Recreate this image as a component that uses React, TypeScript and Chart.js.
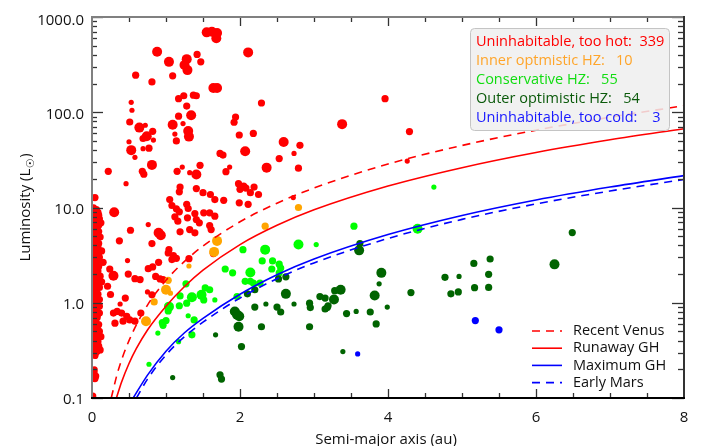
import React, { useEffect, useRef } from 'react';
import { Chart, registerables } from 'chart.js';

Chart.register(...registerables);

// [semi-major axis (au), luminosity (Lsun), planet size class 1..3]
type P = [number, number, number];

const tooHot: P[] = [
  [0.88, 431, 3], [1.04, 338, 3], [1.09, 241, 2], [1.28, 361, 3], [1.25, 313, 3], [1.29, 277, 3], [1.42, 405, 2], [1.47, 338, 2],
  [1.55, 690, 3], [1.62, 700, 3], [1.69, 679, 3], [1.68, 597, 3], [2.11, 425, 3], [0.59, 245, 2], [0.81, 208, 2], [1.64, 180, 3],
  [1.69, 180, 3], [1.17, 139, 2], [1.24, 149, 2], [1.37, 151, 2], [1.41, 149, 2], [0.53, 127, 1], [0.54, 105, 1], [1.28, 116, 2],
  [1.17, 91, 2], [1.34, 93, 3], [0.51, 79, 2], [0.64, 69, 3], [0.72, 73, 1], [0.82, 63, 2], [0.74, 56, 3], [0.69, 53, 2],
  [0.5, 49, 1], [0.53, 40, 3], [0.69, 41.5, 1], [0.77, 42, 2], [0.83, 51, 1], [0.58, 33.6, 1], [0.81, 28, 3], [0.22, 24, 2],
  [0.68, 24, 2], [0.7, 22.4, 2], [1.09, 74, 3], [1.12, 59, 1], [1.14, 50, 2], [1.23, 76, 1], [1.3, 63.5, 3], [1.31, 55.5, 3],
  [1.15, 24, 2], [1.22, 26.6, 1], [1.32, 23.2, 1], [1.41, 22.2, 3], [1.46, 27.7, 2], [1.41, 15.8, 2], [1.19, 16.4, 2], [1.18, 14.6, 2],
  [1.5, 14.3, 2], [1.6, 13.7, 2], [1.66, 12.1, 2], [0.46, 17.8, 1], [1.73, 37, 2], [1.77, 35.5, 2], [1.81, 23.8, 2], [1.86, 26.6, 1],
  [1.94, 89, 2], [1.92, 78.5, 2], [1.99, 57.7, 2], [2.07, 39, 3], [2.18, 60, 2], [2.29, 125, 2], [2.36, 26.2, 3], [2.53, 32.6, 2],
  [1.98, 17.8, 2], [2.0, 15.5, 2], [2.05, 16.8, 2], [2.08, 16, 2], [2.19, 16.4, 2], [2.14, 14.3, 2], [2.25, 13.7, 2],
  [3.96, 139, 2], [3.38, 75, 3], [4.29, 62.7, 2], [2.59, 48.7, 3], [2.81, 45, 2], [2.73, 37, 1], [2.79, 25.9, 2], [4.26, 30.7, 1],
  [2.72, 12.7, 1], [1.78, 11.9, 2], [1.99, 11.2, 2], [2.11, 10.8, 2], [1.05, 12.1, 2], [1.08, 10.5, 2], [1.28, 10.8, 2], [1.3, 9.76, 2],
  [0.3, 8.93, 3], [1.14, 9.69, 2], [1.18, 9.0, 2], [1.12, 7.98, 2], [1.16, 7.18, 2], [1.29, 7.79, 2], [1.39, 8.65, 2], [1.51, 8.8, 2],
  [1.41, 7.48, 2], [1.45, 6.9, 2], [1.59, 8.8, 2], [1.66, 8.1, 2], [1.59, 6.47, 2], [1.61, 5.87, 2], [0.76, 6.62, 1], [0.52, 5.77, 2],
  [0.9, 5.42, 3], [0.93, 5.11, 3], [1.19, 5.55, 2], [1.32, 5.87, 2], [1.39, 5.42, 2], [0.37, 4.47, 2], [0.81, 4.18, 2], [1.04, 3.61, 2],
  [1.03, 3.33, 2], [1.1, 3.12, 2], [1.14, 2.93, 2], [1.08, 2.84, 2], [1.31, 2.9, 2], [1.64, 3.28, 2], [0.48, 2.77, 1], [0.9, 2.66, 2],
  [0.82, 2.38, 2], [0.15, 2.66, 2], [0.24, 2.26, 2], [0.29, 1.92, 3], [0.49, 2.0, 2], [0.58, 1.79, 2], [0.65, 1.75, 2], [0.76, 2.28, 2],
  [0.86, 1.89, 2], [0.92, 1.78, 2], [0.96, 1.75, 2], [0.13, 1.66, 2], [0.25, 1.22, 2], [0.21, 1.49, 2], [0.45, 1.12, 2], [0.75, 1.3, 1],
  [0.81, 1.21, 2], [0.38, 0.97, 1], [0.29, 0.78, 2], [0.34, 0.81, 2], [0.4, 0.78, 2], [0.47, 0.72, 2], [0.51, 0.66, 2], [0.31, 0.61, 2],
  [0.42, 0.64, 2], [0.66, 0.78, 2], [0.11, 0.32, 2], [0.58, 0.64, 2], [0.04, 0.185, 1], [0.04, 12.7, 2], [0.03, 0.197, 2], [0.05, 0.17, 2],
  [0.04, 0.16, 2], [0.01, 0.105, 2],
  // dense strip of close-in planets
  [0.02, 9.6, 2], [0.05, 9.2, 2], [0.03, 8.7, 2], [0.08, 8.9, 2], [0.04, 8.1, 2], [0.01, 7.6, 2], [0.06, 7.3, 2], [0.03, 6.8, 2],
  [0.09, 6.5, 2], [0.05, 6.1, 2], [0.02, 5.7, 2], [0.07, 5.4, 2], [0.04, 5.0, 2], [0.11, 4.9, 2], [0.03, 4.6, 2], [0.06, 4.3, 2],
  [0.01, 4.0, 2], [0.08, 3.8, 2], [0.04, 3.6, 2], [0.05, 3.3, 2], [0.02, 3.1, 2], [0.1, 3.0, 2], [0.07, 2.8, 2], [0.03, 2.6, 2],
  [0.05, 2.45, 2], [0.01, 2.3, 2], [0.08, 2.15, 2], [0.04, 2.0, 2], [0.06, 1.9, 2], [0.02, 1.8, 2], [0.09, 1.7, 2], [0.05, 1.6, 2],
  [0.03, 1.5, 2], [0.07, 1.42, 2], [0.01, 1.35, 2], [0.04, 1.28, 2], [0.06, 1.2, 2], [0.02, 1.13, 2], [0.1, 1.08, 2], [0.05, 1.02, 2],
  [0.03, 0.96, 2], [0.08, 0.91, 2], [0.01, 0.86, 2], [0.06, 0.82, 2], [0.04, 0.78, 2], [0.02, 0.74, 2], [0.07, 0.7, 2], [0.05, 0.66, 2],
  [0.03, 0.62, 2], [0.09, 0.59, 2], [0.01, 0.56, 2], [0.06, 0.53, 2], [0.04, 0.5, 2], [0.02, 0.47, 2], [0.08, 0.45, 2], [0.05, 0.42, 2],
  [0.03, 0.4, 2], [0.06, 0.37, 2], [0.01, 0.35, 2], [0.04, 0.33, 2], [0.07, 0.31, 2], [0.02, 0.29, 2], [0.12, 0.44, 2], [0.11, 1.9, 2],
  [0.12, 6.9, 2], [0.1, 0.78, 2], [0.13, 3.5, 2],
  [0.02, 9.9, 2], [0.06, 9.5, 2], [0.09, 8.3, 2], [0.01, 8.4, 2], [0.07, 7.9, 2], [0.04, 7.0, 2], [0.1, 7.6, 2], [0.02, 6.3, 2],
  [0.07, 6.0, 2], [0.04, 5.4, 2], [0.09, 5.6, 2], [0.01, 5.2, 2], [0.06, 4.7, 2], [0.02, 4.4, 2], [0.09, 4.2, 2], [0.05, 3.9, 2],
  [0.03, 3.5, 2], [0.07, 3.4, 2], [0.01, 3.3, 2], [0.09, 3.3, 2], [0.04, 2.9, 2], [0.06, 2.65, 2], [0.02, 2.5, 2], [0.09, 2.4, 2],
  [0.04, 2.25, 2], [0.07, 2.05, 2], [0.01, 1.95, 2], [0.03, 1.72, 2], [0.07, 1.6, 2], [0.1, 1.45, 2], [0.05, 1.38, 2], [0.02, 1.25, 2],
  [0.08, 1.23, 2], [0.04, 1.13, 2], [0.07, 1.05, 2], [0.01, 1.0, 2], [0.05, 0.9, 2], [0.1, 0.92, 2], [0.03, 0.83, 2], [0.08, 0.76, 2],
  [0.01, 0.68, 2], [0.05, 0.6, 2], [0.07, 0.55, 2], [0.03, 0.52, 2], [0.1, 0.5, 2], [0.05, 0.47, 2], [0.01, 0.43, 2], [0.08, 0.39, 2],
  [0.03, 0.36, 2], [0.06, 0.33, 2], [0.09, 0.35, 2], [0.02, 0.32, 2], [0.05, 0.3, 2], [0.04, 0.28, 2],
];

const innerOptimistic: P[] = [
  [2.79, 10.0, 2], [2.34, 6.36, 2], [1.69, 4.46, 3], [1.65, 3.42, 3], [1.31, 2.43, 1],
  [1.03, 1.72, 2], [1.0, 1.37, 3], [1.06, 1.26, 1], [0.84, 1.02, 2], [0.73, 0.64, 3],
];

const conservative: P[] = [
  [2.04, 3.61, 2], [2.34, 3.61, 3], [2.79, 4.08, 3], [3.03, 4.08, 1], [2.3, 2.75, 2], [2.44, 2.75, 2], [2.53, 2.54, 2],
  [2.55, 2.31, 2], [2.43, 2.26, 2], [2.53, 2.06, 2], [1.8, 2.26, 2], [1.9, 2.06, 2], [2.14, 2.08, 3], [2.07, 1.68, 2],
  [2.14, 1.68, 2], [2.18, 1.61, 2], [2.27, 1.61, 2], [1.27, 1.58, 2], [1.19, 1.18, 2], [1.53, 1.43, 2], [1.59, 1.37, 2],
  [1.48, 1.21, 3], [1.51, 1.07, 2], [1.35, 1.14, 3], [1.66, 1.07, 1], [1.28, 0.99, 2], [1.18, 0.93, 2], [1.04, 0.91, 3],
  [1.03, 0.82, 2], [1.3, 0.73, 1], [1.38, 0.66, 2], [0.95, 0.62, 2], [0.96, 0.58, 2], [1.0, 0.65, 2], [0.89, 0.48, 1],
  [1.35, 0.46, 2], [1.17, 0.39, 1], [0.77, 0.226, 1], [1.96, 1.16, 2], [4.62, 16.4, 1], [3.54, 6.36, 2], [4.4, 5.97, 3],
];

const outerOptimistic: P[] = [
  [2.52, 1.78, 2], [2.62, 1.87, 2], [2.1, 1.24, 2], [2.2, 1.37, 2], [2.62, 1.24, 3], [1.93, 0.81, 3], [1.96, 0.75, 3],
  [1.99, 0.72, 3], [2.2, 0.9, 2], [2.35, 0.97, 1], [2.5, 0.9, 2], [2.55, 0.8, 2], [2.73, 0.97, 1], [2.94, 0.99, 2],
  [2.95, 0.89, 2], [3.08, 1.16, 2], [3.15, 1.12, 2], [3.18, 0.89, 2], [1.98, 0.56, 3], [2.29, 0.56, 2], [2.94, 0.56, 2],
  [1.67, 0.46, 1], [2.02, 0.347, 2], [1.09, 0.164, 1], [1.73, 0.175, 2], [1.75, 0.158, 2], [3.62, 4.18, 2], [3.61, 3.55, 3],
  [3.91, 2.06, 3], [3.88, 1.58, 1], [3.82, 1.19, 3], [3.99, 0.9, 1], [3.76, 0.8, 2], [3.84, 0.6, 2], [3.57, 0.81, 1],
  [3.44, 0.77, 2], [3.36, 1.37, 3], [3.28, 1.34, 2], [3.27, 1.08, 3], [3.19, 0.93, 2], [3.15, 0.86, 2], [4.31, 1.28, 2],
  [4.77, 1.85, 2], [4.96, 1.89, 1], [5.16, 2.59, 2], [5.38, 2.88, 2], [5.36, 1.99, 2], [4.85, 1.24, 2], [4.95, 1.3, 2],
  [5.17, 1.44, 2], [5.36, 1.45, 2], [3.39, 0.307, 1], [6.49, 5.45, 2], [6.25, 2.53, 3],
];

const tooCold: P[] = [[3.59, 0.29, 1], [5.18, 0.65, 2], [5.5, 0.52, 2]];

// habitable-zone boundaries [a (au), L (Lsun)]
const recentVenus: [number, number][] = [
  [0.26, 0.1], [0.35, 0.19], [0.5, 0.4], [0.75, 0.945], [1.0, 1.72], [1.25, 2.72], [1.5, 3.94], [2.0, 7.08],
  [2.5, 11.1], [3.0, 16.0], [4.0, 28.6], [5.0, 44.8], [6.0, 64.8], [7.0, 88.7], [8.0, 117],
];
const runawayGH: [number, number][] = [
  [0.33, 0.1], [0.4, 0.147], [0.5, 0.23], [0.6, 0.331], [0.75, 0.518], [1.0, 0.92], [1.25, 1.48], [1.5, 2.2],
  [2.0, 4.08], [2.5, 6.5], [3.0, 9.45], [4.0, 16.8], [5.0, 26.2], [6.0, 37.8], [7.0, 51.4], [8.0, 67.2],
];
const maximumGH: [number, number][] = [
  [0.557, 0.1], [0.75, 0.174], [1.0, 0.31], [1.25, 0.484], [1.5, 0.686], [2.0, 1.23], [2.5, 1.97], [3.0, 2.88],
  [4.0, 5.2], [5.0, 8.25], [6.0, 12.0], [7.0, 16.4], [8.0, 21.6],
];
const earlyMars: [number, number][] = [
  [0.6, 0.1], [0.75, 0.158], [1.0, 0.283], [1.25, 0.44], [1.5, 0.625], [2.0, 1.12], [2.5, 1.79], [3.0, 2.62],
  [4.0, 4.73], [5.0, 7.5], [6.0, 10.9], [7.0, 14.9], [8.0, 19.7],
];

const yTickValues = [0.1, 1, 10, 100, 1000];
const xTickValues = [0, 2, 4, 6, 8];
const categoryLabels = [
  'Uninhabitable, too hot:  339',
  'Inner optmistic HZ:   10',
  'Conservative HZ:   55',
  'Outer optimistic HZ:   54',
  'Uninhabitable, too cold:    3',
];
const boundaryLabels = ['Recent Venus', 'Runaway GH', 'Maximum GH', 'Early Mars'];

const FONT = '"Open Sans", "DejaVu Sans", sans-serif';
const catColors = ['#ff0000', '#ffa500', '#00ff00', '#006400', '#0000ff'];
const catTextColors = ['#ff0000', '#ffa52a', '#11dd11', '#0b5a0b', '#1818ff'];
const boundaryColors = ['#ff0000', '#ff0000', '#0000ff', '#0000ff'];
const boundaryDashed = [true, false, false, true];

const decorPlugin = {
  id: 'decor',
  afterDraw(chart: any) {
    const { ctx, chartArea: ca, scales } = chart;
    const xs = scales.x;
    const ys = scales.y;
    ctx.save();

    // inward ticks
    ctx.strokeStyle = '#333';
    ctx.lineWidth = 1.3;
    const yMinor: number[] = [];
    [0.1, 1, 10, 100].forEach((d) => { for (let m = 2; m <= 9; m++) yMinor.push(d * m); });
    const hline = (x1: number, x2: number, y: number) => { ctx.beginPath(); ctx.moveTo(x1, y); ctx.lineTo(x2, y); ctx.stroke(); };
    const vline = (x: number, y1: number, y2: number) => { ctx.beginPath(); ctx.moveTo(x, y1); ctx.lineTo(x, y2); ctx.stroke(); };
    yMinor.forEach((v) => {
      const py = Math.round(ys.getPixelForValue(v)) + 0.5;
      hline(ca.left, ca.left + 5, py);
      hline(ca.right - 6, ca.right, py);
    });
    yTickValues.forEach((v) => {
      const py = Math.round(ys.getPixelForValue(v)) + 0.5;
      hline(ca.left, ca.left + 11, py);
      hline(ca.right - 12, ca.right, py);
    });
    for (let v = 0.5; v < 8; v += 0.5) {
      const major = xTickValues.includes(v);
      const len = major ? 9 : 5;
      const px = Math.round(xs.getPixelForValue(v)) + 0.5;
      vline(px, ca.bottom, ca.bottom - len);
      vline(px, ca.top, ca.top + len);
    }

    // frame
    ctx.lineWidth = 2;
    ctx.strokeStyle = '#808080';
    vline(ca.left, ca.top - 1, ca.bottom + 1);
    hline(ca.left - 1, ca.right + 1, ca.top);
    ctx.strokeStyle = '#333';
    vline(ca.right, ca.top - 1, ca.bottom + 1);
    ctx.strokeStyle = '#000';
    hline(ca.left - 1, ca.right + 1, ca.bottom);

    // tick labels
    ctx.fillStyle = '#111';
    ctx.font = `15px ${FONT}`;
    ctx.textAlign = 'right';
    ctx.textBaseline = 'middle';
    yTickValues.forEach((v) => {
      const py = ys.getPixelForValue(v);
      ctx.fillText(v.toFixed(1), ca.left - 8, py + (v === 1000 ? 4 : 2));
    });
    ctx.textAlign = 'center';
    xTickValues.forEach((v) => {
      ctx.fillText(String(v), xs.getPixelForValue(v), ca.bottom + 20);
    });

    // axis titles
    ctx.font = `15px ${FONT}`;
    ctx.textBaseline = 'alphabetic';
    ctx.fillText('Semi-major axis (au)', (ca.left + ca.right) / 2 - 2, 444);

    ctx.save();
    ctx.translate(30, (ca.top + ca.bottom) / 2);
    ctx.rotate(-Math.PI / 2);
    const t1 = 'Luminosity (L';
    const t2 = '\u2609';
    const t3 = ')';
    ctx.font = `15px ${FONT}`;
    const w1 = ctx.measureText(t1).width;
    const w3 = ctx.measureText(t3).width;
    ctx.font = `11px "DejaVu Sans", sans-serif`;
    const w2 = ctx.measureText(t2).width;
    const total = w1 + w2 + w3 + 1;
    let cx = -total / 2;
    ctx.textAlign = 'left';
    ctx.font = `15px ${FONT}`;
    ctx.fillText(t1, cx, 0);
    cx += w1;
    ctx.font = `11px "DejaVu Sans", sans-serif`;
    ctx.fillText(t2, cx + 0.5, 4);
    cx += w2 + 1;
    ctx.font = `15px ${FONT}`;
    ctx.fillText(t3, cx, 0);
    ctx.restore();

    // category legend box
    const bx = 470.5, by = 28.5, bw = 199, bh = 102, r = 4;
    ctx.beginPath();
    ctx.moveTo(bx + r, by);
    ctx.arcTo(bx + bw, by, bx + bw, by + bh, r);
    ctx.arcTo(bx + bw, by + bh, bx, by + bh, r);
    ctx.arcTo(bx, by + bh, bx, by, r);
    ctx.arcTo(bx, by, bx + bw, by, r);
    ctx.closePath();
    ctx.fillStyle = 'rgba(238,238,238,0.85)';
    ctx.fill();
    ctx.strokeStyle = '#c4c4c4';
    ctx.lineWidth = 1;
    ctx.stroke();
    ctx.font = `14.5px ${FONT}`;
    ctx.textAlign = 'left';
    ctx.textBaseline = 'middle';
    categoryLabels.forEach((t, i) => {
      ctx.fillStyle = catTextColors[i];
      ctx.fillText(t, 476, 42 + i * 19);
    });

    // boundary legend
    boundaryLabels.forEach((t, i) => {
      const ly = 331 + i * 17.2;
      ctx.strokeStyle = boundaryColors[i];
      ctx.lineWidth = 1.6;
      ctx.setLineDash(boundaryDashed[i] ? [8, 6] : []);
      ctx.beginPath();
      ctx.moveTo(532, ly);
      ctx.lineTo(562, ly);
      ctx.stroke();
      ctx.setLineDash([]);
      ctx.fillStyle = '#111';
      ctx.fillText(t, 573, ly);
    });

    ctx.restore();
  },
};

export default function App() {
  const ref = useRef<HTMLCanvasElement>(null);
  useEffect(() => {
    if (!ref.current) return;
    const toPts = (arr: P[]) => arr.map(([a, L, s]) => ({ x: a, y: L, s }));
    const rad = (c: any) => {
      const s = c.raw && c.raw.s;
      return s === 1 ? 2.6 : s === 3 ? 5 : 3.6;
    };
    const groups = [tooHot, innerOptimistic, conservative, outerOptimistic, tooCold];
    const pointSets = groups.map((g, i) => ({
      type: 'scatter',
      label: categoryLabels[i],
      data: toPts(g),
      backgroundColor: catColors[i],
      borderWidth: 0,
      pointRadius: rad,
      pointHoverRadius: rad,
      order: 10 - i,
    }));
    const curves = [recentVenus, runawayGH, maximumGH, earlyMars];
    const lineSets = curves.map((c, i) => ({
      type: 'scatter',
      label: boundaryLabels[i],
      data: c.map(([a, L]) => ({ x: a, y: L })),
      showLine: true,
      borderColor: boundaryColors[i],
      backgroundColor: boundaryColors[i],
      borderWidth: 1.6,
      borderDash: boundaryDashed[i] ? [8, 6] : [],
      pointRadius: 0,
      pointHoverRadius: 0,
      fill: false,
      cubicInterpolationMode: 'monotone',
      order: 1,
    }));
    const chart = new Chart(ref.current, {
      type: 'scatter',
      data: { datasets: [...lineSets, ...pointSets] as any },
      options: {
        animation: false,
        responsive: false,
        devicePixelRatio: 1,
        layout: { padding: { left: 0, right: 19, top: 17, bottom: 0 } },
        plugins: { legend: { display: false }, tooltip: { enabled: false } },
        events: [],
        scales: {
          x: {
            type: 'linear',
            min: 0,
            max: 8,
            grid: { display: false, drawTicks: false },
            border: { display: false },
            ticks: { display: false },
            afterFit: (s: any) => { s.height = 48; },
          },
          y: {
            type: 'logarithmic',
            min: 0.1,
            max: 1000,
            grid: { display: false, drawTicks: false },
            border: { display: false },
            ticks: { display: false },
            afterFit: (s: any) => { s.width = 92; },
          },
        },
      } as any,
      plugins: [decorPlugin],
    });
    return () => chart.destroy();
  }, []);
  return (
    <div style={{ position: 'absolute', left: 0, top: 0, width: 703, height: 446, background: '#fff' }}>
      <canvas ref={ref} width={703} height={446} style={{ display: 'block', width: 703, height: 446 }} />
    </div>
  );
}
